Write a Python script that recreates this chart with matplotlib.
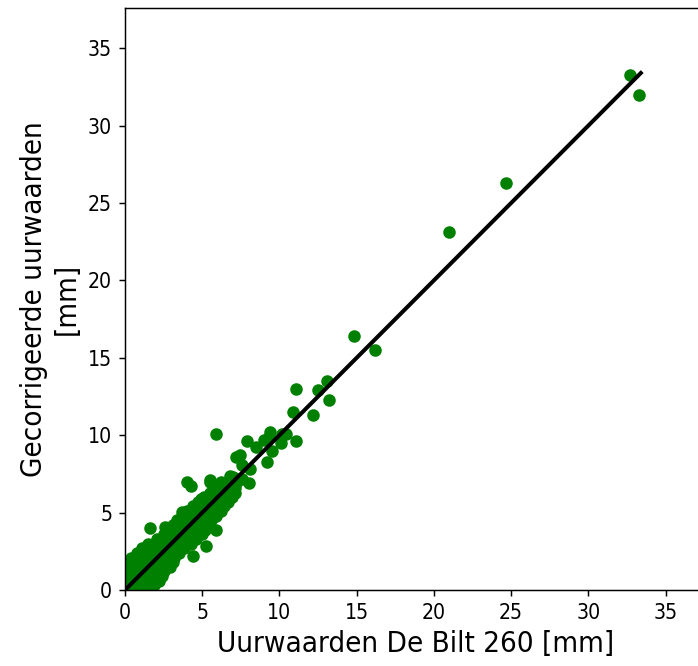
import matplotlib
matplotlib.use('Agg')
import matplotlib.pyplot as plt

plt.rcParams['font.family'] = ['DejaVu Sans']
plt.rcParams['font.stretch'] = 'condensed'

# uurwaarden De Bilt (x) en gecorrigeerde uurwaarden (y), in mm
# losse punten buiten de dichte wolk
los_x = [32.7, 33.3, 24.7, 21.0, 14.8, 16.2, 11.1, 12.5, 13.1, 13.2, 10.9, 12.2,
         11.1, 10.2, 10.4, 9.4, 9.3, 10.1, 7.9, 8.5, 9.5, 9.0, 9.2, 7.45, 7.2,
         8.1, 8.0, 7.0, 7.6, 6.8, 6.2, 5.9, 5.5, 5.5, 4.0, 4.3, 4.9, 5.9, 5.25,
         4.4, 1.6, 2.6, 3.7]
los_y = [33.3, 32.0, 26.3, 23.1, 16.4, 15.5, 13.0, 12.9, 13.5, 12.3, 11.5, 11.3,
         9.6, 10.1, 10.1, 10.2, 9.9, 9.5, 9.6, 9.25, 9.0, 9.7, 8.3, 8.7, 8.6,
         7.8, 6.9, 7.3, 8.1, 7.4, 7.0, 10.1, 7.1, 7.0, 7.0, 6.7, 5.9, 3.9, 2.85,
         2.2, 4.0, 4.05, 5.05]

wolk_x = [0.1, 0.4, 0.7, 1.0, 1.3, 1.6,
          0.0, 0.3, 0.6, 0.9, 1.2, 1.5, 1.9,
          0.0, 0.3, 0.65, 0.9, 1.2, 1.55, 1.8, 2.2,
          0.0, 0.35, 0.6, 0.9, 1.25, 1.5, 1.8, 2.1, 2.4,
          0.0, 0.3, 0.6, 0.95, 1.2, 1.5, 1.85, 2.1, 2.5,
          0.0, 0.3, 0.6, 0.9, 1.2, 1.5, 1.8, 2.15, 2.6, 2.9,
          0.1, 0.5, 0.8, 1.1, 1.4, 1.75, 2.0, 2.3, 2.7, 3.1,
          0.4, 0.7, 1.0, 1.3, 1.6, 1.9, 2.25, 2.5, 2.8, 3.2,
          0.8, 1.1, 1.45, 1.7, 2.0, 2.35, 2.6, 2.9, 3.3, 3.5,
          1.1, 1.4, 1.7, 2.05, 2.3, 2.6, 2.95, 3.2, 3.5, 3.8,
          1.5, 1.85, 2.1, 2.4, 2.7, 3.05, 3.3, 3.6, 3.9, 4.3,
          2.1, 2.4, 2.7, 3.0, 3.35, 3.6, 3.9, 4.2, 4.6,
          2.5, 2.8, 3.15, 3.4, 3.7, 4.0, 4.35, 4.6, 5.0,
          2.8, 3.1, 3.4, 3.75, 4.0, 4.3, 4.6, 4.9, 5.2,
          3.1, 3.45, 3.7, 4.0, 4.3, 4.65, 4.9, 5.2, 5.4,
          3.4, 3.7, 4.05, 4.3, 4.6, 4.9, 5.25, 5.6,
          3.7, 4.0, 4.3, 4.6, 4.95, 5.2, 5.5, 5.9,
          4.0, 4.35, 4.6, 4.9, 5.2, 5.55, 5.8, 6.2,
          4.4, 4.7, 5.0, 5.3, 5.6, 5.9, 6.4,
          4.7, 5.0, 5.35, 5.6, 5.9, 6.2, 6.7,
          5.1, 5.4, 5.7, 6.0, 6.3, 6.6, 6.9,
          5.5, 5.8, 6.1, 6.45, 6.7, 7.1,
          5.9, 6.2, 6.5, 6.8, 7.1,
          6.3, 6.6, 6.9, 7.2,
          6.8, 7.1, 7.4, 7.6]
wolk_y = [0.0, 0.0, 0.0, 0.0, 0.0, 0.0,
          0.3, 0.3, 0.3, 0.3, 0.3, 0.3, 0.3,
          0.6, 0.6, 0.6, 0.6, 0.6, 0.6, 0.6, 0.6,
          0.9, 0.9, 0.9, 0.9, 0.9, 0.9, 0.9, 0.9, 0.9,
          1.2, 1.2, 1.2, 1.2, 1.2, 1.2, 1.2, 1.2, 1.2,
          1.5, 1.5, 1.5, 1.5, 1.5, 1.5, 1.5, 1.5, 1.5, 1.5,
          1.8, 1.8, 1.8, 1.8, 1.8, 1.8, 1.8, 1.8, 1.8, 1.8,
          2.1, 2.1, 2.1, 2.1, 2.1, 2.1, 2.1, 2.1, 2.1, 2.1,
          2.4, 2.4, 2.4, 2.4, 2.4, 2.4, 2.4, 2.4, 2.4, 2.4,
          2.7, 2.7, 2.7, 2.7, 2.7, 2.7, 2.7, 2.7, 2.7, 2.7,
          3.0, 3.0, 3.0, 3.0, 3.0, 3.0, 3.0, 3.0, 3.0, 3.0,
          3.3, 3.3, 3.3, 3.3, 3.3, 3.3, 3.3, 3.3, 3.3,
          3.6, 3.6, 3.6, 3.6, 3.6, 3.6, 3.6, 3.6, 3.6,
          3.9, 3.9, 3.9, 3.9, 3.9, 3.9, 3.9, 3.9, 3.9,
          4.2, 4.2, 4.2, 4.2, 4.2, 4.2, 4.2, 4.2, 4.2,
          4.5, 4.5, 4.5, 4.5, 4.5, 4.5, 4.5, 4.5,
          4.8, 4.8, 4.8, 4.8, 4.8, 4.8, 4.8, 4.8,
          5.1, 5.1, 5.1, 5.1, 5.1, 5.1, 5.1, 5.1,
          5.4, 5.4, 5.4, 5.4, 5.4, 5.4, 5.4,
          5.7, 5.7, 5.7, 5.7, 5.7, 5.7, 5.7,
          6.0, 6.0, 6.0, 6.0, 6.0, 6.0, 6.0,
          6.3, 6.3, 6.3, 6.3, 6.3, 6.3,
          6.6, 6.6, 6.6, 6.6, 6.6,
          6.9, 6.9, 6.9, 6.9,
          7.2, 7.2, 7.2, 7.2]

# 1:1 lijn
lijn_x = [0, 33.4]
lijn_y = [0, 33.4]

dpi = 132
fig = plt.figure(figsize=(698 / dpi, 666 / dpi), dpi=dpi)
ax = fig.add_axes([0.179, 0.114, 0.832, 0.874])

ax.scatter(wolk_x, wolk_y, color='green', s=34, zorder=2)
ax.scatter(los_x, los_y, color='green', s=34, zorder=2)
ax.plot(lijn_x, lijn_y, color='black', linewidth=2.2, zorder=3)

ax.set_xlim(0, 37.6)
ax.set_ylim(0, 37.6)
ax.set_xticks(range(0, 36, 5))
ax.set_yticks(range(0, 36, 5))
ax.tick_params(labelsize=11.5)
ax.set_xlabel('Uurwaarden De Bilt 260 [mm]', fontsize=16)
ax.set_ylabel('Gecorrigeerde uurwaarden\n[mm]', fontsize=16)

plt.savefig('out.png', dpi=dpi)
plt.close()
